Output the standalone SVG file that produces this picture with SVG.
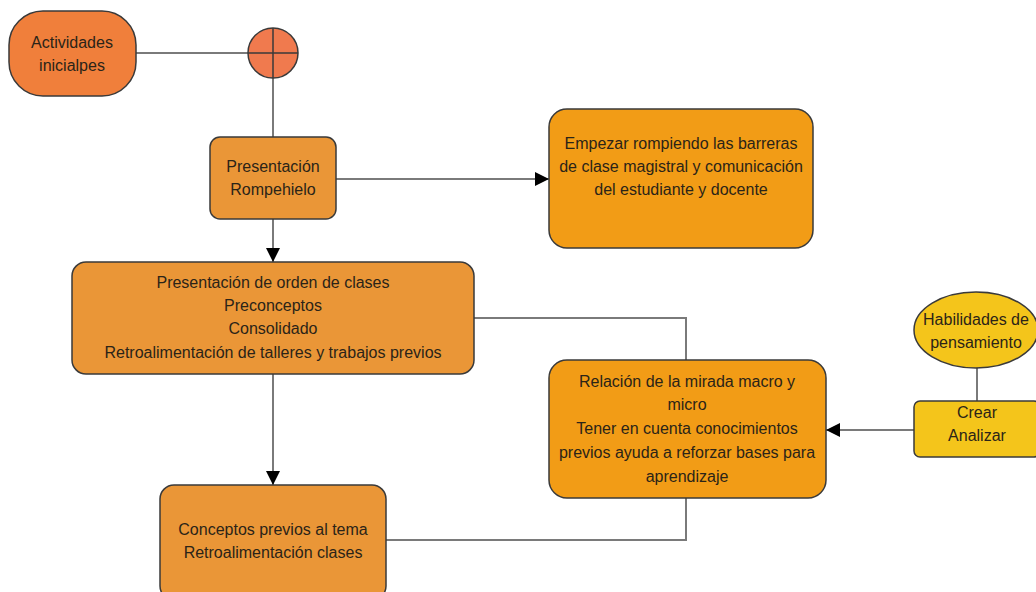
<svg xmlns="http://www.w3.org/2000/svg" width="1036" height="592" viewBox="0 0 1036 592">
<defs>
<style>
.t{font-family:"Liberation Sans",Arial,sans-serif;font-size:16px;fill:#2b2418;text-anchor:middle}
.b{stroke:#3a3a3a;stroke-width:1.5}
.c{fill:none;stroke:#7a7a7a;stroke-width:2}
</style>
<marker id="ah" viewBox="0 0 10 10" refX="10" refY="5" markerWidth="7" markerHeight="7" markerUnits="userSpaceOnUse" orient="auto">
<path d="M0,0 L10,5 L0,10 z" fill="#000"/>
</marker>
<marker id="a" viewBox="0 0 12 12" refX="12" refY="6" markerWidth="14" markerHeight="14" markerUnits="userSpaceOnUse" orient="auto">
<path d="M0,0 L12,6 L0,12 z" fill="#000"/>
</marker>
</defs>
<rect width="1036" height="592" fill="#fff"/>
<g id="connectors">
<path class="c" d="M136,53 H273"/>
<path class="c" d="M273,78 V137"/>
<path class="c" d="M336,179 H549" marker-end="url(#a)"/>
<path class="c" d="M273,219 V262" marker-end="url(#a)"/>
<path class="c" d="M474,318 H686 V360"/>
<path class="c" d="M273,374 V485" marker-end="url(#a)"/>
<path class="c" d="M386,540 H686 V498"/>
<path class="c" d="M977,368 V401"/>
<path class="c" d="M914,430 H826" marker-end="url(#a)"/>
</g>
<g id="actividades">
<rect class="b" x="9" y="11" width="127" height="85" rx="34" fill="#F07F3B"/>
<text class="t" x="72" y="48">Actividades</text>
<text class="t" x="72" y="71">inicialpes</text>
</g>
<g id="junction">
<circle class="b" cx="273" cy="53" r="25" fill="#F07A4E"/>
<path d="M248,53 H298 M273,28 V78" stroke="#3a3a3a" stroke-width="1.5"/>
</g>
<g id="presentacion">
<rect class="b" x="210" y="137" width="126" height="82" rx="10" fill="#EA9637"/>
<text class="t" x="273" y="172">Presentación</text>
<text class="t" x="273" y="195">Rompehielo</text>
</g>
<g id="empezar">
<rect class="b" x="549" y="109" width="264" height="139" rx="18" fill="#F29C16"/>
<text class="t" x="681" y="149">Empezar rompiendo las barreras</text>
<text class="t" x="681" y="172">de clase magistral y comunicación</text>
<text class="t" x="681" y="195">del estudiante y docente</text>
</g>
<g id="orden">
<rect class="b" x="72" y="262" width="402" height="112" rx="14" fill="#EA9637"/>
<text class="t" x="273" y="288">Presentación de orden de clases</text>
<text class="t" x="273" y="311">Preconceptos</text>
<text class="t" x="273" y="334">Consolidado</text>
<text class="t" x="273" y="358">Retroalimentación de talleres y trabajos previos</text>
</g>
<g id="relacion">
<rect class="b" x="549" y="360" width="277" height="138" rx="18" fill="#F29C16"/>
<text class="t" x="687" y="387">Relación de la mirada macro y</text>
<text class="t" x="687" y="410">micro</text>
<text class="t" x="687" y="434">Tener en cuenta conocimientos</text>
<text class="t" x="687" y="458">previos ayuda a reforzar bases para</text>
<text class="t" x="687" y="482">aprendizaje</text>
</g>
<g id="conceptos">
<rect class="b" x="160" y="485" width="226" height="115" rx="14" fill="#EA9637"/>
<text class="t" x="273" y="535">Conceptos previos al tema</text>
<text class="t" x="273" y="558">Retroalimentación clases</text>
</g>
<g id="habilidades">
<ellipse class="b" cx="976" cy="330" rx="62" ry="38" fill="#F4C51B"/>
<text class="t" x="976" y="325">Habilidades de</text>
<text class="t" x="976" y="348">pensamiento</text>
</g>
<g id="crear">
<rect class="b" x="914" y="401" width="126" height="56" rx="6" fill="#F4C51B"/>
<text class="t" x="977" y="418">Crear</text>
<text class="t" x="977" y="441">Analizar</text>
</g>
</svg>
